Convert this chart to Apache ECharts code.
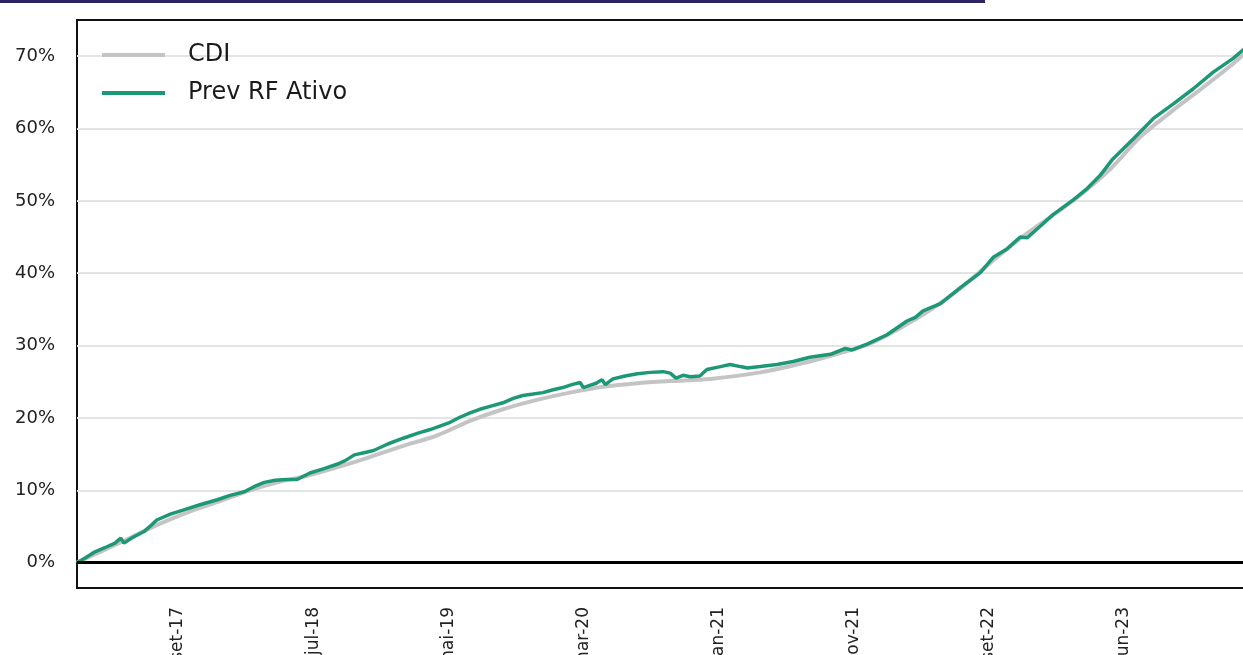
<!DOCTYPE html>
<html>
<head>
<meta charset="utf-8">
<script src="https://cdn.jsdelivr.net/npm/echarts@6/dist/echarts.min.js"></script>
<style>
html,body{margin:0;padding:0;background:#fff;}
#chart{width:1243px;height:655px;}
</style>
</head>
<body>
<div id="chart"></div>
<script>
// x = business-day index since start of series
const xTickPos = [157, 367, 577, 787, 997, 1207, 1417, 1627];
const xTickLabels = ['set-17', 'jul-18', 'mai-19', 'mar-20', 'jan-21', 'nov-21', 'set-22', 'jun-23'];
const yTicks = [0, 10, 20, 30, 40, 50, 60, 70];

const cdiX = [0,36,82,129,176,222,269,316,362,409,455,502,560,611,662,715,766,818,871,922,984,1062,1139,1191,1233,1279,1326,1373,1419,1466,1513,1559,1606,1652,1699,1746,1792,1817];
const cdiY = [0,1.5,3.4,5.4,7.1,8.5,10.0,11.2,12.1,13.3,14.6,16.0,17.6,19.6,21.2,22.5,23.5,24.3,24.8,25.1,25.4,26.3,27.8,29.1,30.3,32.4,34.9,37.9,41.4,44.8,47.8,50.8,54.4,58.8,62.2,65.4,68.6,70.6];

const prevX = [0,12,28,44,59,68,73,85,104,117,124,145,166,191,218,238,260,275,291,308,326,342,362,384,404,417,431,446,461,483,507,530,549,580,595,611,626,642,662,678,693,709,724,740,755,769,782,787,790,797,807,816,821,833,852,871,891,911,922,931,934,942,953,968,979,1000,1015,1031,1042,1062,1088,1113,1139,1171,1194,1205,1228,1259,1290,1303,1315,1342,1373,1404,1424,1446,1466,1477,1497,1517,1548,1570,1590,1610,1642,1673,1704,1735,1766,1797,1817];
const prevY = [0,0.6,1.5,2.1,2.7,3.4,2.7,3.4,4.3,5.3,5.9,6.7,7.3,8.0,8.7,9.3,9.8,10.5,11.1,11.4,11.5,11.5,12.4,13.0,13.6,14.1,14.9,15.2,15.5,16.4,17.2,17.9,18.4,19.4,20.1,20.7,21.2,21.6,22.1,22.7,23.1,23.3,23.5,23.9,24.2,24.6,24.9,24.2,24.0,24.5,24.8,25.3,24.6,25.4,25.8,26.1,26.3,26.4,26.2,25.5,25.3,25.9,25.7,25.8,26.7,27.1,27.4,27.1,26.9,27.1,27.4,27.8,28.4,28.8,29.6,29.4,30.2,31.5,33.4,33.9,34.8,35.8,38.0,40.1,42.2,43.4,45.0,44.9,46.5,48.1,50.1,51.7,53.5,55.8,58.6,61.4,63.4,65.5,67.8,69.7,71.2];

const zip = (xs, ys) => xs.map((x, i) => [x, ys[i]]);

const chart = echarts.init(document.getElementById('chart'), null, {renderer: 'canvas'});
const FONT = 'DejaVu Sans';
chart.setOption({
  animation: false,
  backgroundColor: '#fff',
  textStyle: {fontFamily: FONT},
  graphic: [{
    type: 'rect', left: 0, top: 0, shape: {width: 985, height: 3},
    style: {fill: '#2b2566'}
  }],
  grid: {left: 77, right: -5, top: 20, bottom: 67, show: true, borderColor: '#111', borderWidth: 2, containLabel: false, outerBoundsMode: 'none'},
  legend: {
    orient: 'vertical', left: 102, top: 42, itemGap: 12, padding: 0,
    icon: 'rect', itemWidth: 63, itemHeight: 4,
    textStyle: {fontFamily: FONT, fontSize: 24, color: '#1a1a1a', lineHeight: 26, padding: [0, 0, 0, 18]},
    data: ['CDI', 'Prev RF Ativo']
  },
  xAxis: {
    type: 'value', min: 0, max: 1820,
    axisLine: {show: false}, axisTick: {show: false}, splitLine: {show: false},
    axisLabel: {
      customValues: xTickPos, rotate: 90, margin: 19,
      fontFamily: FONT, fontSize: 17, color: '#222',
      formatter: (v) => { const i = xTickPos.indexOf(v); return i >= 0 ? xTickLabels[i] : ''; }
    }
  },
  yAxis: {
    type: 'value', min: -3.5, max: 75,
    axisLine: {show: false},
    axisTick: {show: false, customValues: yTicks},
    axisLabel: {customValues: yTicks, formatter: '{value}%', margin: 22, fontFamily: FONT, fontSize: 18, color: '#222'},
    splitLine: {show: true, lineStyle: {color: '#e4e4e4', width: 2}}
  },
  series: [
    {
      name: 'CDI', type: 'line', showSymbol: false, symbol: 'none',
      data: zip(cdiX, cdiY), smooth: 0.3,
      lineStyle: {color: '#c4c4c4', width: 4}, itemStyle: {color: '#c4c4c4'},
      z: 3,
      markLine: {
        silent: true, symbol: 'none', label: {show: false},
        lineStyle: {color: '#000', width: 3, type: 'solid'},
        data: [{yAxis: yTicks[0]}]
      }
    },
    {
      name: 'Prev RF Ativo', type: 'line', showSymbol: false, symbol: 'none',
      data: zip(prevX, prevY),
      lineStyle: {color: '#1d9877', width: 3.5}, itemStyle: {color: '#1d9877'},
      z: 4
    }
  ]
});
</script>
</body>
</html>
